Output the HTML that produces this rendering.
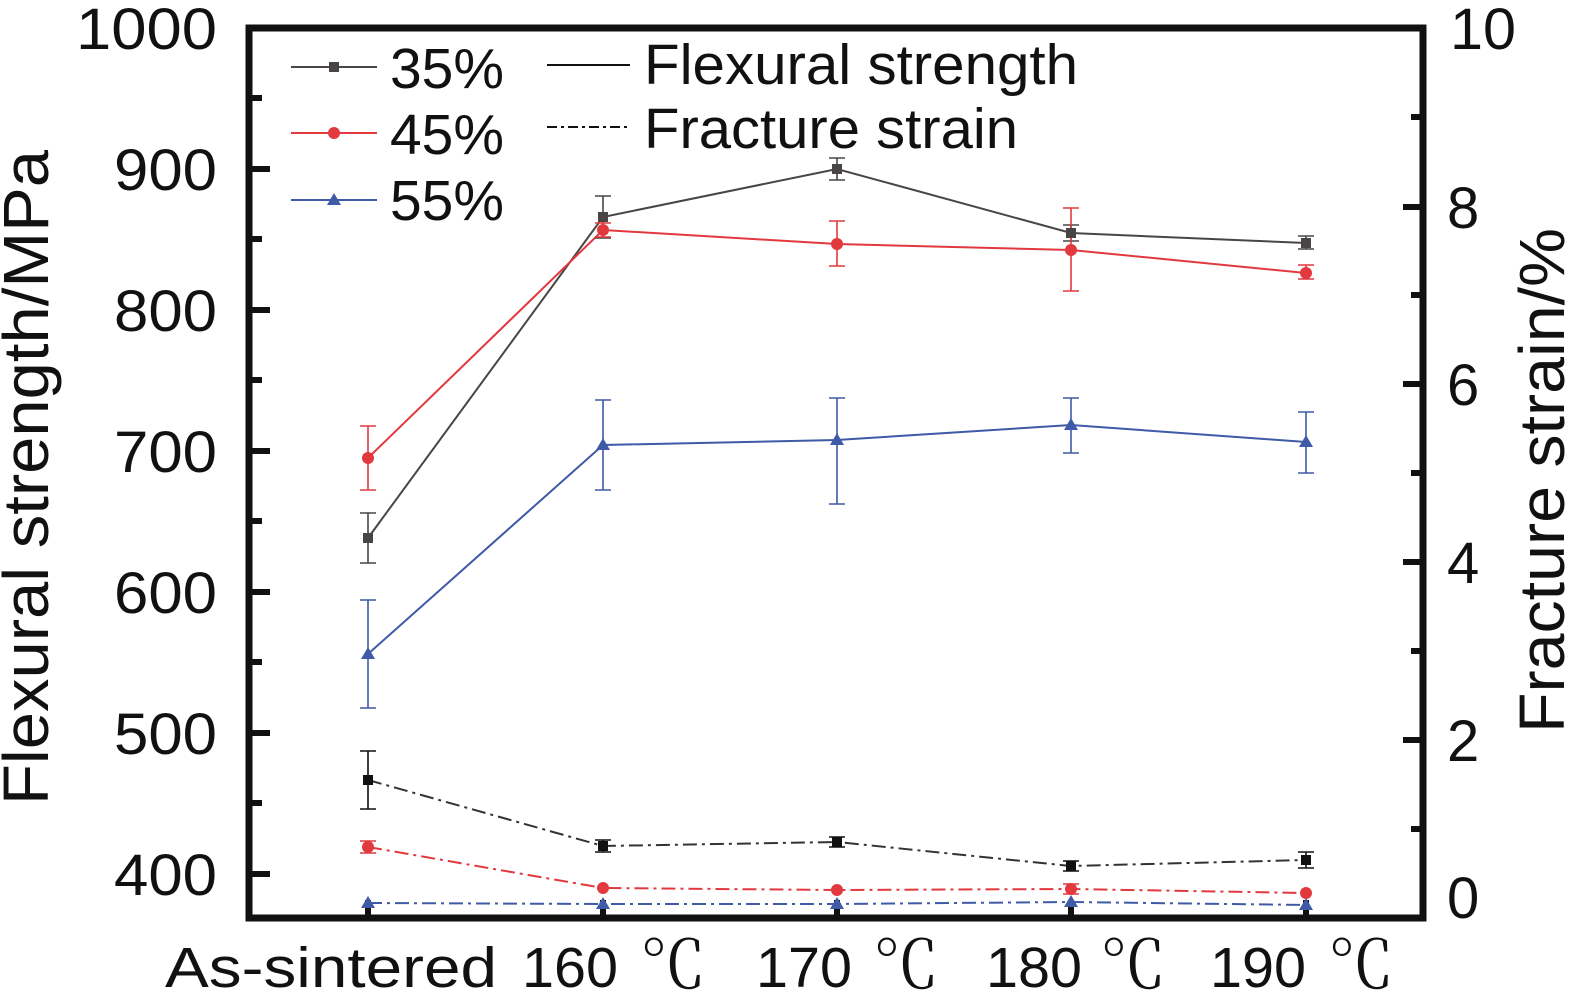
<!DOCTYPE html>
<html><head><meta charset="utf-8"><style>html,body{margin:0;padding:0;background:#fff}svg{display:block}</style></head>
<body>
<svg width="1581" height="997" viewBox="0 0 1581 997" xmlns="http://www.w3.org/2000/svg" font-family="Liberation Sans, Arial, sans-serif">
<rect width="1581" height="997" fill="#fff"/>
<g stroke="#111" stroke-width="6">
<line x1="249" y1="169" x2="270" y2="169"/><line x1="249" y1="310" x2="270" y2="310"/><line x1="249" y1="451" x2="270" y2="451"/><line x1="249" y1="592" x2="270" y2="592"/><line x1="249" y1="733" x2="270" y2="733"/><line x1="249" y1="874" x2="270" y2="874"/>
<line x1="249" y1="98" x2="262" y2="98"/><line x1="249" y1="239" x2="262" y2="239"/><line x1="249" y1="380" x2="262" y2="380"/><line x1="249" y1="521" x2="262" y2="521"/><line x1="249" y1="662" x2="262" y2="662"/><line x1="249" y1="803" x2="262" y2="803"/>
<line x1="1423" y1="207" x2="1403" y2="207"/><line x1="1423" y1="384" x2="1403" y2="384"/><line x1="1423" y1="562" x2="1403" y2="562"/><line x1="1423" y1="740" x2="1403" y2="740"/>
<line x1="1423" y1="117" x2="1411" y2="117"/><line x1="1423" y1="295" x2="1411" y2="295"/><line x1="1423" y1="473" x2="1411" y2="473"/><line x1="1423" y1="651" x2="1411" y2="651"/><line x1="1423" y1="829" x2="1411" y2="829"/>
<line x1="368" y1="918" x2="368" y2="900"/><line x1="603" y1="918" x2="603" y2="900"/><line x1="837" y1="918" x2="837" y2="900"/><line x1="1071" y1="918" x2="1071" y2="900"/><line x1="1306" y1="918" x2="1306" y2="900"/>
</g>
<rect x="249" y="28" width="1174" height="890" fill="none" stroke="#111" stroke-width="7"/>

<g fill="none" stroke-width="2">
<polyline stroke="#4a4545" points="368,538 603,217 837,169 1071,233 1306,243"/>
<polyline stroke="#e2393f" points="368,458 603,230 837,244 1071,250 1306,273"/>
<polyline stroke="#3f5aa6" points="368,654 603,445 837,440 1071,425 1306,442"/>
</g>
<g stroke-width="1.6" fill="none">
<path stroke="#4a4545" d="M368,513V563M360,513h16M360,563h16 M603,196V238M595,196h16M595,238h16 M837,158V180M829,158h16M829,180h16 M1071,225V241M1063,225h16M1063,241h16 M1306,236V249M1298,236h16M1298,249h16"/>
<path stroke="#e2393f" d="M368,426V490M360,426h16M360,490h16 M603,223V237M595,223h16M595,237h16 M837,221V266M829,221h16M829,266h16 M1071,208V291M1063,208h16M1063,291h16 M1306,265V279M1298,265h16M1298,279h16"/>
<path stroke="#3f5aa6" d="M368,600V708M360,600h16M360,708h16 M603,400V490M595,400h16M595,490h16 M837,398V504M829,398h16M829,504h16 M1071,398V453M1063,398h16M1063,453h16 M1306,412V473M1298,412h16M1298,473h16"/>
</g>
<g fill="#4a4545"><rect x="363" y="533" width="10" height="10"/><rect x="598" y="212" width="10" height="10"/><rect x="832" y="164" width="10" height="10"/><rect x="1066" y="228" width="10" height="10"/><rect x="1301" y="238" width="10" height="10"/></g>
<g fill="#e2393f"><circle cx="368" cy="458" r="6"/><circle cx="603" cy="230" r="6"/><circle cx="837" cy="244" r="6"/><circle cx="1071" cy="250" r="6"/><circle cx="1306" cy="273" r="6"/></g>
<g fill="#3f5aa6"><path d="M368,647l7,12h-14z"/><path d="M603,438l7,12h-14z"/><path d="M837,433l7,12h-14z"/><path d="M1071,418l7,12h-14z"/><path d="M1306,435l7,12h-14z"/></g>

<g fill="none" stroke-width="2" stroke-dasharray="14,5,3,5">
<polyline stroke="#333" points="368,780 603,846 837,842 1071,866 1306,860"/>
<polyline stroke="#e2393f" points="368,847 603,888 837,890 1071,889 1306,893"/>
<polyline stroke="#3f5aa6" points="368,903 603,904 837,904 1071,902 1306,905"/>
</g>
<g stroke-width="1.6" fill="none">
<path stroke="#111" d="M368,751V809M360,751h16M360,809h16 M603,840V852M595,840h16M595,852h16 M837,837V847M829,837h16M829,847h16 M1071,861V871M1063,861h16M1063,871h16 M1306,852V868M1298,852h16M1298,868h16"/>
<path stroke="#e2393f" d="M368,841V853M360,841h16M360,853h16 M1071,884V894M1063,884h16M1063,894h16"/>
</g>
<g fill="#111"><rect x="363" y="775" width="10" height="10"/><rect x="598" y="841" width="10" height="10"/><rect x="832" y="837" width="10" height="10"/><rect x="1066" y="861" width="10" height="10"/><rect x="1301" y="855" width="10" height="10"/></g>
<g fill="#e2393f"><circle cx="368" cy="847" r="6"/><circle cx="603" cy="888" r="6"/><circle cx="837" cy="890" r="6"/><circle cx="1071" cy="889" r="6"/><circle cx="1306" cy="893" r="6"/></g>
<g fill="#3f5aa6"><path d="M368,896l7,12h-14z"/><path d="M603,897l7,12h-14z"/><path d="M837,897l7,12h-14z"/><path d="M1071,895l7,12h-14z"/><path d="M1306,898l7,12h-14z"/></g>

<g stroke-width="2"><line x1="291" y1="67" x2="377" y2="67" stroke="#4a4545"/><line x1="291" y1="133" x2="377" y2="133" stroke="#e2393f"/><line x1="291" y1="200" x2="377" y2="200" stroke="#3f5aa6"/>
<line x1="547" y1="65" x2="630" y2="65" stroke="#111"/><line x1="547" y1="127" x2="630" y2="127" stroke="#111" stroke-dasharray="10,4,3,4"/></g>
<rect x="329" y="62" width="10" height="10" fill="#4a4545"/><circle cx="334" cy="133" r="6" fill="#e2393f"/><path d="M334,193l7,12h-14z" fill="#3f5aa6"/>
<g font-size="57" fill="#111">
<text x="390" y="88" textLength="114" lengthAdjust="spacingAndGlyphs">35%</text><text x="390" y="154" textLength="114" lengthAdjust="spacingAndGlyphs">45%</text><text x="390" y="220" textLength="114" lengthAdjust="spacingAndGlyphs">55%</text>
<text x="644" y="84" textLength="434" lengthAdjust="spacingAndGlyphs">Flexural strength</text>
<text x="644" y="148" textLength="374" lengthAdjust="spacingAndGlyphs">Fracture strain</text>
</g>
<g font-size="58" fill="#111">
<text x="76" y="49" textLength="141" lengthAdjust="spacingAndGlyphs">1000</text>
<text x="114" y="190" textLength="103" lengthAdjust="spacingAndGlyphs">900</text>
<text x="114" y="331" textLength="103" lengthAdjust="spacingAndGlyphs">800</text>
<text x="114" y="472" textLength="103" lengthAdjust="spacingAndGlyphs">700</text>
<text x="114" y="613" textLength="103" lengthAdjust="spacingAndGlyphs">600</text>
<text x="114" y="754" textLength="103" lengthAdjust="spacingAndGlyphs">500</text>
<text x="114" y="895" textLength="103" lengthAdjust="spacingAndGlyphs">400</text>
</g>
<g font-size="58" fill="#111">
<text x="1450" y="49" textLength="66" lengthAdjust="spacingAndGlyphs">10</text><text x="1447" y="228">8</text><text x="1447" y="405">6</text><text x="1447" y="583">4</text><text x="1447" y="761">2</text><text x="1447" y="918">0</text>
</g>
<g font-size="57" fill="#111">
<text x="165" y="987" textLength="332" lengthAdjust="spacingAndGlyphs">As-sintered</text>
<text x="522" y="987" textLength="96" lengthAdjust="spacingAndGlyphs">160</text><text x="756" y="987" textLength="96" lengthAdjust="spacingAndGlyphs">170</text><text x="986" y="987" textLength="96" lengthAdjust="spacingAndGlyphs">180</text><text x="1210" y="987" textLength="96" lengthAdjust="spacingAndGlyphs">190</text>
</g>
<g font-size="66" fill="#111" font-family="Noto Serif CJK SC, serif">
<text x="640" y="988">℃</text><text x="873" y="988">℃</text><text x="1100" y="988">℃</text><text x="1328" y="988">℃</text>
</g>
<text transform="translate(48,805) rotate(-90)" font-size="64" fill="#111" textLength="655" lengthAdjust="spacingAndGlyphs">Flexural strength/MPa</text>
<text transform="translate(1564,733) rotate(-90)" font-size="64" fill="#111" textLength="505" lengthAdjust="spacingAndGlyphs">Fracture strain/%</text>
</svg>
</body></html>
